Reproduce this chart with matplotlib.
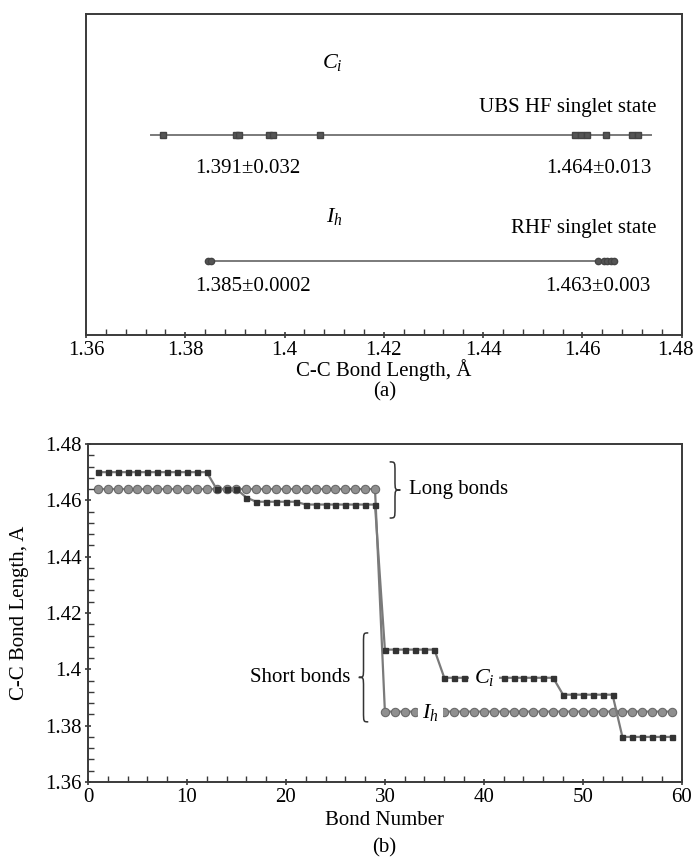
import numpy as np
import matplotlib
matplotlib.use("Agg")
import matplotlib.pyplot as plt
import matplotlib.transforms as mtransforms
from matplotlib.path import Path
from matplotlib.patches import PathPatch
from matplotlib.ticker import MultipleLocator

plt.rcParams['font.family'] = ['Liberation Serif', 'DejaVu Serif']
plt.rcParams['mathtext.fontset'] = 'custom'
plt.rcParams['mathtext.rm'] = 'Liberation Serif'
plt.rcParams['mathtext.it'] = 'Liberation Serif:italic'

# (a) individual bond lengths for each structure
ci_lengths = [1.3756, 1.3902, 1.3908, 1.3968, 1.3976, 1.4071,
              1.4585, 1.4597, 1.4609, 1.4648, 1.4700, 1.4712]
ih_lengths = [1.3846, 1.3852, 1.4631, 1.4643, 1.4650, 1.4657, 1.4664]
ci_stats = ["1.391\u00b10.032", "1.464\u00b10.013"]
ih_stats = ["1.385\u00b10.0002", "1.463\u00b10.003"]

# (b) bond length vs bond number
bond_no = np.arange(1, 60)
ci_bond = ([1.470] * 12 + [1.464] * 3 + [1.461] + [1.4595] * 5 + [1.4585] * 8
           + [1.407] * 6 + [1.397] * 12 + [1.391] * 6 + [1.376] * 6)
ih_bond = [1.464] * 29 + [1.385] * 30

line_col = '#7a7a7a'
dark = '#3a3a3a'
fs = 15

fig = plt.figure(figsize=(6.95, 8.66), dpi=100)
ax1 = fig.add_axes([0.1237, 0.6132, 0.981 - 0.1237, 0.9838 - 0.6132])
ax2 = fig.add_axes([0.1266, 0.097, 0.981 - 0.1266, 0.4873 - 0.097])

for ax in (ax1, ax2):
    for s in ax.spines.values():
        s.set_color(dark)
        s.set_linewidth(1.4)
    ax.tick_params(which='major', direction='inout', length=5, width=1.2,
                   color=dark, labelsize=fs, pad=2)
    ax.tick_params(which='minor', direction='in', length=4, width=1.0,
                   color=dark)

# ---- panel (a)
y_ci, y_ih = 0.623, 0.23
pad = 0.0025
ax1.plot([min(ci_lengths) - pad, max(ci_lengths) + pad], [y_ci, y_ci],
         color=line_col, lw=1.4, zorder=1)
ax1.plot(ci_lengths, [y_ci] * len(ci_lengths), 's', ms=4.5,
         mfc='#555555', mec='#444444', zorder=2)
ax1.plot([min(ih_lengths), max(ih_lengths)], [y_ih, y_ih],
         color=line_col, lw=1.4, zorder=1)
ax1.plot(ih_lengths, [y_ih] * len(ih_lengths), 'o', ms=4.5,
         mfc='#555555', mec='#444444', zorder=2)

ax1.set_xlim(1.36, 1.48)
ax1.set_ylim(0, 1)
ax1.set_yticks([])
ax1.xaxis.set_minor_locator(MultipleLocator(0.004))
ax1.set_xticks([1.36, 1.38, 1.40, 1.42, 1.44, 1.46, 1.48])
ax1.set_xticklabels(['1.36', '1.38', '1.4', '1.42', '1.44', '1.46', '1.48'])
# keep the last label inside the figure edge
last = ax1.get_xticklabels()[-1]
last.set_transform(last.get_transform() +
                   mtransforms.ScaledTranslation(-6 / 100, 0, fig.dpi_scale_trans))
ax1.set_xlabel('C-C Bond Length, \u00c5', fontsize=fs)
ax1.xaxis.set_label_coords(0.5, -0.074)

ax1.text(0.414, 0.85, r'$C_i$', transform=ax1.transAxes, ha='center',
         va='center', fontsize=fs + 1)
ax1.text(0.957, 0.71, 'UBS HF singlet state', transform=ax1.transAxes,
         ha='right', va='center', fontsize=fs)
ax1.text(0.272, 0.52, ci_stats[0], transform=ax1.transAxes, ha='center',
         va='center', fontsize=fs)
ax1.text(0.861, 0.52, ci_stats[1], transform=ax1.transAxes, ha='center',
         va='center', fontsize=fs)
ax1.text(0.416, 0.37, r'$I_h$', transform=ax1.transAxes, ha='center',
         va='center', fontsize=fs + 1)
ax1.text(0.957, 0.332, 'RHF singlet state', transform=ax1.transAxes,
         ha='right', va='center', fontsize=fs)
ax1.text(0.28, 0.15, ih_stats[0], transform=ax1.transAxes, ha='center',
         va='center', fontsize=fs)
ax1.text(0.859, 0.15, ih_stats[1], transform=ax1.transAxes, ha='center',
         va='center', fontsize=fs)
fig.text(0.553, 0.547, '(a)', ha='center', va='center', fontsize=fs)

# ---- panel (b)
ax2.plot(bond_no, ci_bond, '-s', color=line_col, lw=1.6, ms=3.6,
         mfc='#333333', mec='#333333', zorder=2)
ax2.plot(bond_no, ih_bond, '-o', color=line_col, lw=1.6, ms=6,
         mfc='#8f8f8f', mec='#6a6a6a', mew=0.8, zorder=1)

ax2.set_xlim(0, 60)
ax2.set_ylim(1.36, 1.48)
ax2.xaxis.set_major_locator(MultipleLocator(10))
ax2.xaxis.set_minor_locator(MultipleLocator(2))
ax2.yaxis.set_minor_locator(MultipleLocator(0.004))
ax2.set_yticks([1.36, 1.38, 1.40, 1.42, 1.44, 1.46, 1.48])
ax2.set_yticklabels(['1.36', '1.38', '1.4', '1.42', '1.44', '1.46', '1.48'])
ax2.set_xlabel('Bond Number', fontsize=fs)
ax2.xaxis.set_label_coords(0.5, -0.085)
ax2.set_ylabel('C-C Bond Length, A', fontsize=fs)
ax2.yaxis.set_label_coords(-0.1, 0.5)

ax2.text(40, 1.397, r'$C_i$', ha='center', va='center', fontsize=fs + 1,
         zorder=5, bbox=dict(boxstyle='square,pad=0.2', fc='white', ec='none'))
ax2.text(34.6, 1.3845, r'$I_h$', ha='center', va='center', fontsize=fs + 1,
         zorder=5, bbox=dict(boxstyle='square,pad=0.2', fc='white', ec='none'))


def brace(ax, x0, y0, y1, w, d):
    """Vertical curly brace in axes fraction; w > 0 points right."""
    ym = 0.5 * (y0 + y1)
    xm = x0 + w / 2
    verts = [(x0, y1),
             (xm, y1), (xm, y1), (xm, y1 - d),
             (xm, ym + d),
             (xm, ym), (xm, ym), (x0 + w, ym),
             (xm, ym), (xm, ym), (xm, ym - d),
             (xm, y0 + d),
             (xm, y0), (xm, y0), (x0, y0)]
    codes = ([Path.MOVETO] + [Path.CURVE4] * 3 + [Path.LINETO]
             + [Path.CURVE4] * 6 + [Path.LINETO] + [Path.CURVE4] * 3)
    ax.add_patch(PathPatch(Path(verts, codes), transform=ax.transAxes,
                           fc='none', ec='#333333', lw=1.1, clip_on=False))


brace(ax2, 0.508, 0.781, 0.947, 0.018, 0.03)
ax2.text(0.54, 0.864, 'Long bonds', transform=ax2.transAxes, ha='left',
         va='center', fontsize=fs)
brace(ax2, 0.472, 0.178, 0.441, -0.016, 0.03)
ax2.text(0.442, 0.308, 'Short bonds', transform=ax2.transAxes, ha='right',
         va='center', fontsize=fs)
fig.text(0.553, 0.021, '(b)', ha='center', va='center', fontsize=fs)

fig.savefig('out.png', dpi=100)
